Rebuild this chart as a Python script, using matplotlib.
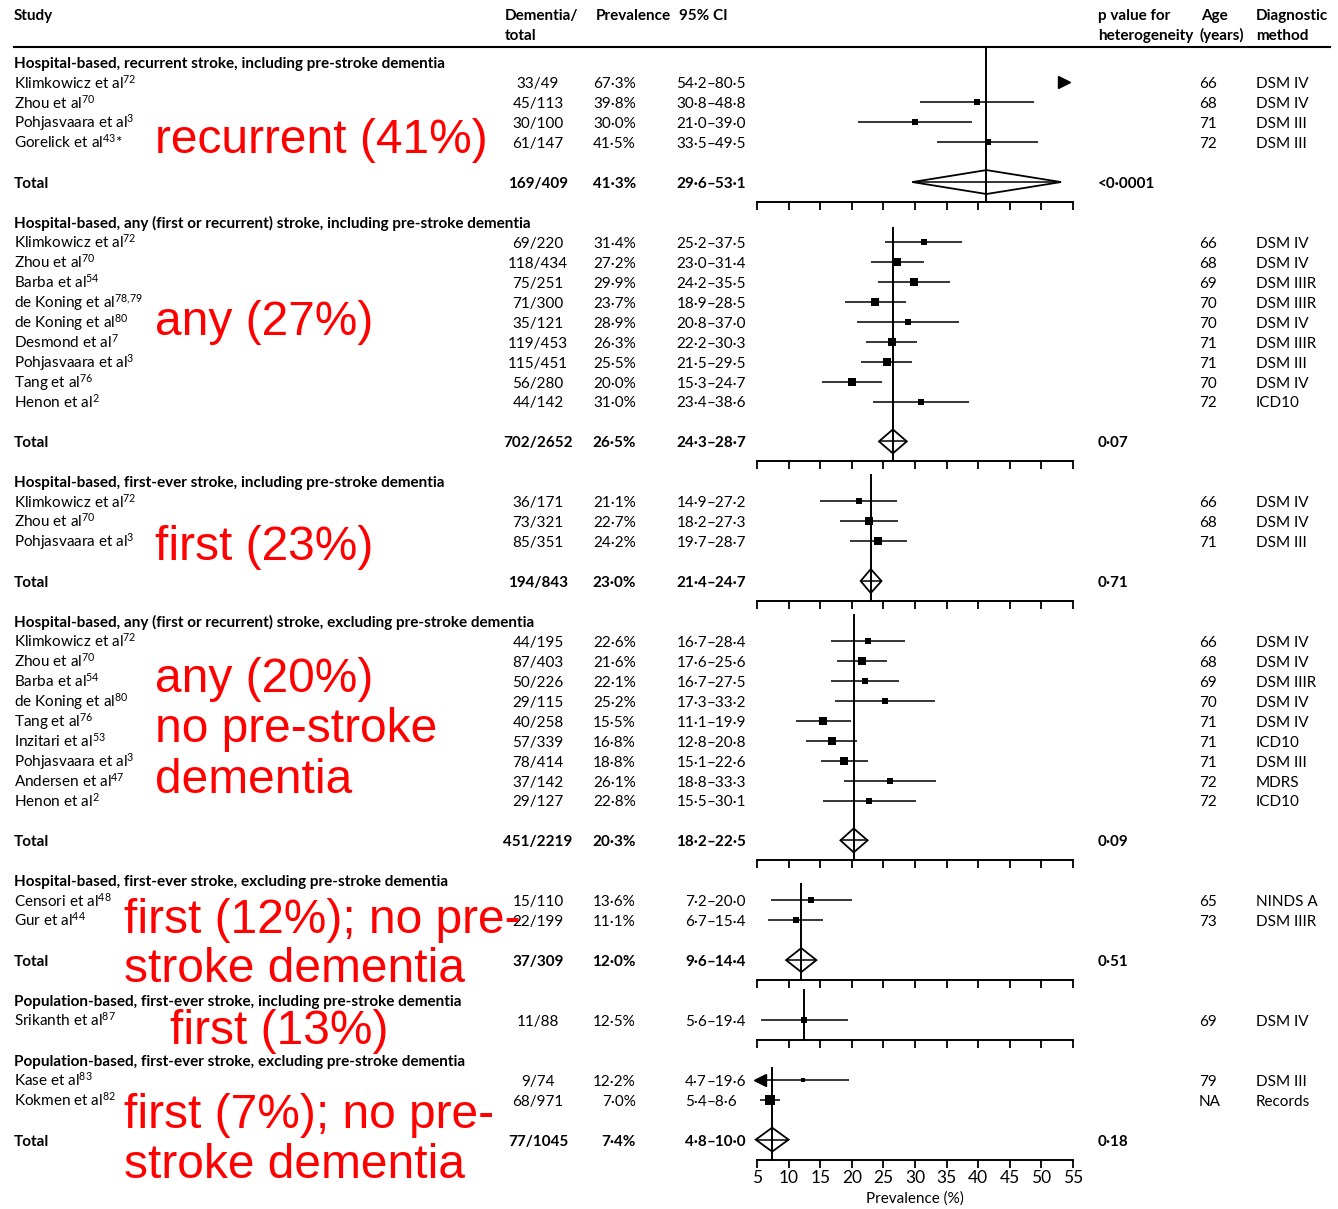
import numpy as np
import matplotlib.pyplot as plt
import matplotlib.transforms as mtransforms
from matplotlib.patches import Polygon

plt.rcParams['font.family'] = ['Lato', 'DejaVu Sans']
plt.rcParams['mathtext.default'] = 'regular'

# ---- data -------------------------------------------------------------
section_titles = [
    'Hospital-based, recurrent stroke, including pre-stroke dementia',
    'Hospital-based, any (first or recurrent) stroke, including pre-stroke dementia',
    'Hospital-based, first-ever stroke, including pre-stroke dementia',
    'Hospital-based, any (first or recurrent) stroke, excluding pre-stroke dementia',
    'Hospital-based, first-ever stroke, excluding pre-stroke dementia',
    'Population-based, first-ever stroke, including pre-stroke dementia',
    'Population-based, first-ever stroke, excluding pre-stroke dementia',
]

study_section = [0, 0, 0, 0,
                 1, 1, 1, 1, 1, 1, 1, 1, 1,
                 2, 2, 2,
                 3, 3, 3, 3, 3, 3, 3, 3, 3,
                 4, 4,
                 5,
                 6, 6]
study_names = ['Klimkowicz et al', 'Zhou et al', 'Pohjasvaara et al', 'Gorelick et al',
               'Klimkowicz et al', 'Zhou et al', 'Barba et al', 'de Koning et al', 'de Koning et al',
               'Desmond et al', 'Pohjasvaara et al', 'Tang et al', 'Henon et al',
               'Klimkowicz et al', 'Zhou et al', 'Pohjasvaara et al',
               'Klimkowicz et al', 'Zhou et al', 'Barba et al', 'de Koning et al', 'Tang et al',
               'Inzitari et al', 'Pohjasvaara et al', 'Andersen et al', 'Henon et al',
               'Censori et al', 'Gur et al',
               'Srikanth et al',
               'Kase et al', 'Kokmen et al']
study_refs = ['72', '70', '3', '43*',
              '72', '70', '54', '78,79', '80', '7', '3', '76', '2',
              '72', '70', '3',
              '72', '70', '54', '80', '76', '53', '3', '47', '2',
              '48', '44',
              '87',
              '83', '82']
dementia = [33, 45, 30, 61,
            69, 118, 75, 71, 35, 119, 115, 56, 44,
            36, 73, 85,
            44, 87, 50, 29, 40, 57, 78, 37, 29,
            15, 22,
            11,
            9, 68]
total_n = [49, 113, 100, 147,
           220, 434, 251, 300, 121, 453, 451, 280, 142,
           171, 321, 351,
           195, 403, 226, 115, 258, 339, 414, 142, 127,
           110, 199,
           88,
           74, 971]
prevalence = [67.3, 39.8, 30.0, 41.5,
              31.4, 27.2, 29.9, 23.7, 28.9, 26.3, 25.5, 20.0, 31.0,
              21.1, 22.7, 24.2,
              22.6, 21.6, 22.1, 25.2, 15.5, 16.8, 18.8, 26.1, 22.8,
              13.6, 11.1,
              12.5,
              12.2, 7.0]
ci_low = [54.2, 30.8, 21.0, 33.5,
          25.2, 23.0, 24.2, 18.9, 20.8, 22.2, 21.5, 15.3, 23.4,
          14.9, 18.2, 19.7,
          16.7, 17.6, 16.7, 17.3, 11.1, 12.8, 15.1, 18.8, 15.5,
          7.2, 6.7,
          5.6,
          4.7, 5.4]
ci_high = [80.5, 48.8, 39.0, 49.5,
           37.5, 31.4, 35.5, 28.5, 37.0, 30.3, 29.5, 24.7, 38.6,
           27.2, 27.3, 28.7,
           28.4, 25.6, 27.5, 33.2, 19.9, 20.8, 22.6, 33.3, 30.1,
           20.0, 15.4,
           19.4,
           19.6, 8.6]
ages = ['66', '68', '71', '72',
        '66', '68', '69', '70', '70', '71', '71', '70', '72',
        '66', '68', '71',
        '66', '68', '69', '70', '71', '71', '71', '72', '72',
        '65', '73',
        '69',
        '79', 'NA']
methods = ['DSM IV', 'DSM IV', 'DSM III', 'DSM III',
           'DSM IV', 'DSM IV', 'DSM IIIR', 'DSM IIIR', 'DSM IV', 'DSM IIIR', 'DSM III', 'DSM IV', 'ICD10',
           'DSM IV', 'DSM IV', 'DSM III',
           'DSM IV', 'DSM IV', 'DSM IIIR', 'DSM IV', 'DSM IV', 'ICD10', 'DSM III', 'MDRS', 'ICD10',
           'NINDS A', 'DSM IIIR',
           'DSM IV',
           'DSM III', 'Records']

pooled_dementia = [169, 702, 194, 451, 37, None, 77]
pooled_total = [409, 2652, 843, 2219, 309, None, 1045]
pooled_prev = [41.3, 26.5, 23.0, 20.3, 12.0, None, 7.4]
pooled_low = [29.6, 24.3, 21.4, 18.2, 9.6, None, 4.8]
pooled_high = [53.1, 28.7, 24.7, 22.5, 14.4, None, 10.0]
p_heterogeneity = ['<0·0001', '0·07', '0·71', '0·09', '0·51', None, '0·18']

notes = [('recurrent (41%)', 155, 153),
         ('any (27%)', 155, 335),
         ('first (23%)', 155, 560),
         ('any (20%)', 155, 692),
         ('no pre-stroke', 155, 742),
         ('dementia', 155, 793),
         ('first (12%); no pre-', 124, 933),
         ('stroke dementia', 124, 982),
         ('first (13%)', 170, 1044),
         ('first (7%); no pre-', 124, 1128),
         ('stroke dementia', 124, 1178)]

XMIN, XMAX = 5, 55
TICKS = np.arange(5, 56, 5)

# ---- layout (pixels) --------------------------------------------------
W, H = 1338, 1209
ROW0, ROWH = 2.5, 19.95          # row r sits at ROW0 + ROWH * r pixels
FS = 11
COL_STUDY, COL_CASES, COL_PREV, COL_DASH = 14, 538, 636, 707
COL_P, COL_AGE, COL_METHOD = 1098, 1199, 1256
VLINE_OFFSET = [None, 0.3, -0.3, -0.3, 0.2, -0.5, 0.4]
HEADER_LINE_PX = 47


def px_to_row(px):
    return (px - ROW0) / ROWH


def dot(v):
    return f'{v:.1f}'.replace('.', '·')


def study_label(name, ref):
    star = ''
    if ref.endswith('*'):
        ref, star = ref[:-1], '*'
    ref = ref.replace(',', '{,}')
    return f'{name}$^{{{ref}}}$' + star


# work out which row everything lands on
layout = []
row = 3
for s in range(len(section_titles)):
    idx = [i for i, sec in enumerate(study_section) if sec == s]
    rows = [row + 1 + k for k in range(len(idx))]
    last = rows[-1]
    total_row = None
    if pooled_prev[s] is not None:
        total_row = last + 2
        last = total_row
    layout.append(dict(title=row, idx=idx, rows=rows, total=total_row, axis=last + 1))
    row = last + 2

bottom_row = layout[-1]['axis']
bottom_px = ROW0 + ROWH * bottom_row

fig = plt.figure(figsize=(W / 100, H / 100), dpi=100)
ax = fig.add_axes([757 / W, 1 - bottom_px / H, 316 / W, bottom_px / H])
ax.set_xlim(XMIN, XMAX)
ax.set_ylim(bottom_row, px_to_row(0))
for side in ['top', 'left', 'right']:
    ax.spines[side].set_visible(False)
ax.spines['bottom'].set_linewidth(1.4)
ax.set_yticks([])
ax.set_xticks(TICKS)
ax.tick_params(axis='x', direction='out', length=5.8, width=1.3, pad=1.5, labelsize=12.5)
ax.set_xlabel('Prevalence (%)', fontsize=11, labelpad=4)

trans = mtransforms.blended_transform_factory(fig.transFigure, ax.transData)
BASE = 0.3   # baseline offset below row centre


def put(px, r, s, ha='left', bold=False, size=FS):
    ax.text(px / W, r + BASE, s, transform=trans, ha=ha, va='baseline',
            fontsize=size, fontweight='bold' if bold else 'normal', clip_on=False)


# header
hdr = [(14, 'Study', ''), (505, 'Dementia/', 'total'), (596, 'Prevalence', ''),
       (679, '95% CI', ''), (1098, 'p value for', 'heterogeneity'),
       (1201, 'Age', '(years)'), (1256, 'Diagnostic', 'method')]
for px, l1, l2 in hdr:
    ax.text(px / W, px_to_row(20), l1, transform=trans, va='baseline', fontsize=FS,
            fontweight='bold', clip_on=False)
    if l2:
        x2 = 1199 if l2 == '(years)' else px
        ax.text(x2 / W, px_to_row(40), l2, transform=trans, va='baseline', fontsize=FS,
                fontweight='bold', clip_on=False)
ax.plot([(14 - 757) / 6.32 + XMIN, (1330 - 757) / 6.32 + XMIN],
        [px_to_row(HEADER_LINE_PX)] * 2, color='black', lw=1.5, clip_on=False)

line_kw = dict(color='black', lw=1.1, solid_capstyle='butt', clip_on=False)

for s, lay in enumerate(layout):
    put(COL_STUDY, lay['title'], section_titles[s], bold=True)

    for i, r in zip(lay['idx'], lay['rows']):
        put(COL_STUDY, r, study_label(study_names[i], study_refs[i]))
        put(COL_CASES, r, f'{dementia[i]}/{total_n[i]}', ha='center')
        put(COL_PREV, r, dot(prevalence[i]) + '%', ha='right')
        put(COL_DASH, r, dot(ci_low[i]), ha='right')
        put(COL_DASH, r, '–' + dot(ci_high[i]))
        put(COL_AGE, r, ages[i])
        put(COL_METHOD, r, methods[i])

        side = min(9.5, 2.0 + 0.32 * np.sqrt(total_n[i]))
        if prevalence[i] > XMAX:
            ax.plot(XMAX - 1.5, r, marker='>', ms=8, color='black', clip_on=False)
            continue
        lo = max(ci_low[i], XMIN)
        hi = min(ci_high[i], XMAX)
        ax.plot([lo, hi], [r, r], **line_kw)
        if ci_low[i] < XMIN:
            ax.plot(XMIN + 0.5, r, marker='<', ms=8, color='black', clip_on=False)
        ax.plot(prevalence[i], r, marker='s', ms=side * 0.72, color='black',
                markeredgewidth=0, clip_on=False)

    if lay['total'] is not None:
        r = lay['total']
        put(COL_STUDY, r, 'Total', bold=True)
        put(COL_CASES, r, f'{pooled_dementia[s]}/{pooled_total[s]}', ha='center', bold=True)
        put(COL_PREV, r, dot(pooled_prev[s]) + '%', ha='right', bold=True)
        put(COL_DASH, r, dot(pooled_low[s]), ha='right', bold=True)
        put(COL_DASH, r, '–' + dot(pooled_high[s]), bold=True)
        put(COL_P, r, p_heterogeneity[s], bold=True)
        lo, est, hi = pooled_low[s], pooled_prev[s], pooled_high[s]
        ax.add_patch(Polygon([(lo, r), (est, r - 0.6), (hi, r), (est, r + 0.6)],
                             closed=True, fill=False, edgecolor='black', lw=1.3,
                             clip_on=False))
        ax.plot([lo, hi], [r, r], **line_kw)
        centre = est
    else:
        centre = prevalence[lay['idx'][0]]

    # vertical line at the pooled estimate
    if VLINE_OFFSET[s] is None:
        top = px_to_row(HEADER_LINE_PX)
    else:
        top = lay['title'] + VLINE_OFFSET[s]
    ax.plot([centre, centre], [top, lay['axis']], color='black', lw=1.4, clip_on=False)

    # per-section scale (the last one is the real x axis)
    if s < len(layout) - 1:
        a = lay['axis']
        ax.plot([XMIN, XMAX], [a, a], color='black', lw=1.4, clip_on=False)
        ax.vlines(TICKS, a, a + 0.4, color='black', lw=1.3, clip_on=False)

for text, px, py in notes:
    fig.text(px / W, 1 - py / H, text, color='#ff0000', fontsize=34.5,
             family=['Liberation Sans', 'DejaVu Sans'], va='baseline', ha='left', zorder=10)

fig.savefig('out.png', dpi=100)
